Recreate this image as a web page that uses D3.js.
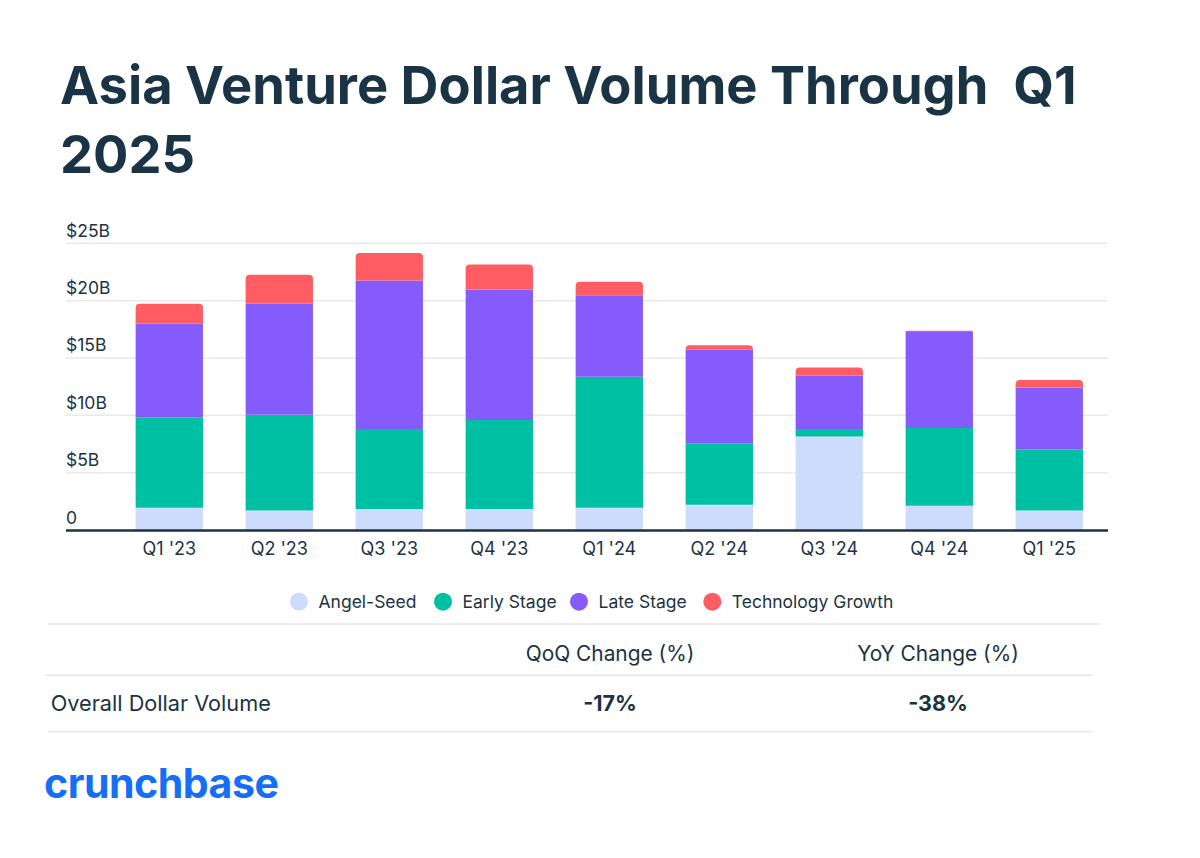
<!DOCTYPE html>
<html>
<head>
<meta charset="utf-8">
<script src="https://cdn.jsdelivr.net/npm/d3@7"></script>
<style>
  html, body { margin: 0; padding: 0; background: #ffffff; }
  svg { display: block; }
  text { font-family: Inter, "Noto Sans", sans-serif; }
</style>
</head>
<body>
<svg id="chart" width="1200" height="858"></svg>
<script>
// ---------- DATA ----------
const quarters = ["Q1 '23", "Q2 '23", "Q3 '23", "Q4 '23", "Q1 '24", "Q2 '24", "Q3 '24", "Q4 '24", "Q1 '25"];
const angelSeed  = [1.94, 1.71, 1.83, 1.83, 1.94, 2.20, 8.16, 2.12, 1.71];
const earlyStage = [7.88, 8.34, 6.97, 7.76, 11.43, 5.32, 0.64, 6.77, 5.32];
const lateStage  = [8.17, 9.68, 12.96, 11.39, 7.09, 8.20, 4.65, 8.37, 5.40];
const techGrowth = [1.74, 2.53, 2.39, 2.18, 1.19, 0.38, 0.73, 0.12, 0.65];
const seriesNames = ["Angel-Seed", "Early Stage", "Late Stage", "Technology Growth"];
const seriesColors = ["#cddcfc", "#00c0a4", "#855bfb", "#ff5c64"];
const yTickValues = [0, 5, 10, 15, 20, 25];
const yTickLabels = ["0", "$5B", "$10B", "$15B", "$20B", "$25B"];
const tableHeaders = ["QoQ Change (%)", "YoY Change (%)"];
const tableRowLabel = "Overall Dollar Volume";
const tableValues = ["-17%", "-38%"];
const titleLines = ["Asia Venture Dollar Volume Through  Q1", "2025"];

// ---------- SETUP ----------
const svg = d3.select("#chart");
const ink = "#1c3344";

const rows = quarters.map((q, i) => ({
  q,
  "Angel-Seed": angelSeed[i],
  "Early Stage": earlyStage[i],
  "Late Stage": lateStage[i],
  "Technology Growth": techGrowth[i]
}));
const stacked = d3.stack().keys(seriesNames)(rows);

const x = d3.scaleBand().domain(quarters).range([114.3, 1104.3]).paddingInner(0.388).paddingOuter(0.194);
const y = d3.scaleLinear().domain([0, 25]).range([530, 243.3]);

// ---------- TITLE ----------
const title = svg.append("g");
const t1 = title.append("text")
  .attr("x", 60).attr("y", 103.5)
  .attr("fill", "#1a3446").attr("font-weight", 700).attr("font-size", 54)
  .style("white-space", "pre")
  .text(titleLines[0]);
const w = t1.node().getComputedTextLength();
const fs = 54 * (1017 / w);
t1.attr("font-size", fs);
title.append("text")
  .attr("x", 60).attr("y", 172.8)
  .attr("fill", "#1a3446").attr("font-weight", 700).attr("font-size", fs)
  .text(titleLines[1]);

// ---------- GRID + Y LABELS ----------
const grid = svg.append("g");
grid.selectAll("line").data(yTickValues.filter(v => v > 0)).join("line")
  .attr("x1", 66).attr("x2", 1108)
  .attr("y1", d => y(d)).attr("y2", d => y(d))
  .attr("stroke", "#e9e9eb").attr("stroke-width", 1.5);
grid.selectAll("text").data(yTickValues).join("text")
  .attr("x", 66).attr("y", d => y(d) - 6.5)
  .attr("fill", ink).attr("font-size", 17.5)
  .text((d, i) => yTickLabels[i]);

// ---------- BARS ----------
function topRounded(x0, y0, w, h, r) {
  r = Math.min(r, h, w / 2);
  return `M${x0},${y0 + h}V${y0 + r}Q${x0},${y0} ${x0 + r},${y0}H${x0 + w - r}Q${x0 + w},${y0} ${x0 + w},${y0 + r}V${y0 + h}Z`;
}
const bars = svg.append("g");
stacked.forEach((layer, li) => {
  const isTop = li === stacked.length - 1;
  bars.append("g").attr("fill", seriesColors[li])
    .selectAll("path").data(layer).join("path")
    .attr("d", d => {
      const x0 = x(d.data.q), y0 = y(d[1]), h = y(d[0]) - y(d[1]);
      if (isTop) return topRounded(x0, y0, x.bandwidth(), h, 4);
      return `M${x0},${y0}h${x.bandwidth()}v${h}h${-x.bandwidth()}Z`;
    });
});

// ---------- X AXIS ----------
const xAxis = svg.append("g").attr("transform", "translate(0,530)")
  .call(d3.axisBottom(x).tickSize(0).tickPadding(0));
xAxis.select(".domain").remove();
xAxis.selectAll("text").attr("font-size", 18).attr("fill", ink)
  .attr("font-family", "Inter, 'Noto Sans', sans-serif")
  .attr("dy", null).attr("y", 25);
svg.append("line").attr("x1", 66).attr("x2", 1108).attr("y1", 530.5).attr("y2", 530.5)
  .attr("stroke", "#1d3344").attr("stroke-width", 2.5);

// ---------- LEGEND ----------
const legendCx = [299, 443, 579, 712.3];
const legend = svg.append("g");
seriesNames.forEach((name, i) => {
  legend.append("circle").attr("cx", legendCx[i]).attr("cy", 601.7).attr("r", 9).attr("fill", seriesColors[i]);
  legend.append("text").attr("x", legendCx[i] + 19.5).attr("y", 607.8)
    .attr("font-size", 17.5).attr("fill", ink).text(name);
});

// ---------- TABLE ----------
const table = svg.append("g");
[[48, 1100, 624], [45, 1093, 675.3], [48, 1093, 731.7]].forEach(([a, b, yy]) => {
  table.append("line").attr("x1", a).attr("x2", b).attr("y1", yy).attr("y2", yy)
    .attr("stroke", "#ececee").attr("stroke-width", 2);
});
const colCx = [610, 938];
tableHeaders.forEach((h, i) => {
  table.append("text").attr("x", colCx[i]).attr("y", 660.7).attr("text-anchor", "middle")
    .attr("font-size", 20.9).attr("fill", ink).text(h);
});
table.append("text").attr("x", 50.7).attr("y", 710.5).attr("font-size", 21.7).attr("fill", ink).text(tableRowLabel);
tableValues.forEach((v, i) => {
  table.append("text").attr("x", colCx[i]).attr("y", 710.5).attr("text-anchor", "middle")
    .attr("font-size", 21.5).attr("font-weight", 700).attr("fill", ink).text(v);
});

// ---------- LOGO ----------
const logo = svg.append("text").attr("x", 44).attr("y", 797.7)
  .attr("font-size", 46).attr("font-weight", 700).attr("fill", "#146ef6")
  .attr("letter-spacing", -0.5).text("crunchbase");
const lw = logo.node().getComputedTextLength();
logo.attr("font-size", 46 * 235 / lw);
</script>
</body>
</html>
